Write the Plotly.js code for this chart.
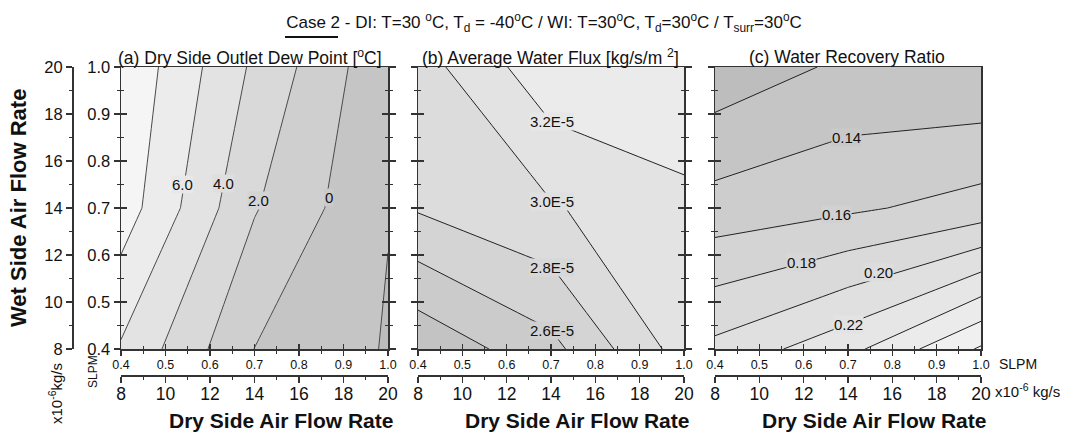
<!DOCTYPE html>
<html><head><meta charset="utf-8">
<script src="https://cdn.plot.ly/plotly-3.0.1.min.js"></script>
<style>html,body{margin:0;padding:0;background:#fff}#chart{width:1066px;height:435px}</style>
</head><body><div id="chart"></div>
<script>
// ---------------- DATA ----------------
// grid: dry side air flow (x) and wet side air flow (y), SLPM
const dryFlow = [0.4, 0.7, 1.0];
const wetFlow = [0.4, 0.7, 1.0];
// (a) dry side outlet dew point [°C]; rows follow wetFlow
const dewPoint = [
  [5.78, -0.02, -2.15],
  [9.09,  2.15, -1.93],
  [9.70,  3.64, -1.54]
];
// (b) average water flux [kg/s/m2]
const waterFlux = [
  [2.24e-5, 2.54e-5, 3.09e-5],
  [2.82e-5, 2.98e-5, 3.16e-5],
  [2.91e-5, 3.34e-5, 3.33e-5]
];
// (c) water recovery ratio
const recovery = [
  [0.2054, 0.2337, 0.2825],
  [0.1480, 0.1566, 0.1680],
  [0.1067, 0.1240, 0.1215]
];
// contour levels
const dewLevels = {start: -2, end: 8, size: 2};
const fluxLevels = {start: 2.4e-5, end: 3.2e-5, size: 0.2e-5};
const recLevels = {start: 0.12, end: 0.28, size: 0.02};
// contour label texts and the level each belongs to
const dewLabelText = ['6.0', '4.0', '2.0', '0'];
const dewLabelLevel = [6, 4, 2, 0];
const fluxLabelText = ['3.2E-5', '3.0E-5', '2.8E-5', '2.6E-5'];
const fluxLabelLevel = [3.2e-5, 3.0e-5, 2.8e-5, 2.6e-5];
const recLabelText = ['0.14', '0.16', '0.18', '0.20', '0.22'];
const recLabelLevel = [0.14, 0.16, 0.18, 0.20, 0.22];
// tick values
const slpmTicks = [0.4, 0.5, 0.6, 0.7, 0.8, 0.9, 1.0];
const slpmTickText = ['0.4', '0.5', '0.6', '0.7', '0.8', '0.9', '1.0'];
const slpmMinorTicks = [0.45, 0.55, 0.65, 0.75, 0.85, 0.95];
const kgsTicks = [8, 10, 12, 14, 16, 18, 20];
const kgsTickText = ['8', '10', '12', '14', '16', '18', '20'];
const kgsMinorTicks = [9, 11, 13, 15, 17, 19];

// ---------------- STYLE / LAYOUT ----------------
const W = 1066, H = 435;
const fx = p => p / W;
const fy = p => 1 - p / H;
const FONT = 'Liberation Sans, Arial, sans-serif';
const AX = '#333';
const TXT = '#111';

const dewColors = ['#bcbcbc', '#c5c5c5', '#cfcfcf', '#d9d9d9', '#e3e3e3', '#ececec', '#f5f5f5'];
const fluxColors = ['#c3c3c3', '#cbcbcb', '#d4d4d4', '#dcdcdc', '#e3e3e3', '#ebebeb'];
const recColors = ['#bdbdbd', '#c5c5c5', '#cdcdcd', '#d4d4d4', '#dadada', '#e0e0e0', '#e6e6e6', '#ebebeb', '#f0f0f0', '#f6f6f6'];

// label positions (data coords), kept apart from the data
const dewLabelPos = [[0.539, 0.749], [0.631, 0.753], [0.708, 0.717], [0.868, 0.723]];
const fluxLabelPos = [[0.702, 0.883], [0.702, 0.713], [0.702, 0.574], [0.702, 0.440]];
const recLabelPos = [[0.696, 0.849], [0.675, 0.687], [0.594, 0.585], [0.768, 0.562], [0.700, 0.453]];

const panels = [
  {z: dewPoint, lv: dewLevels, colors: dewColors, line: '#4a4a4a', px: [121, 388],
   lt: dewLabelText, ll: dewLabelLevel, lp: dewLabelPos,
   title: '(a) Dry Side Outlet Dew Point [<sup>o</sup>C]', tcx: 250},
  {z: waterFlux, lv: fluxLevels, colors: fluxColors, line: '#222', px: [418, 684],
   lt: fluxLabelText, ll: fluxLabelLevel, lp: fluxLabelPos,
   title: '(b) Average Water Flux [kg/s/m <sup>2</sup>]', tcx: 550},
  {z: recovery, lv: recLevels, colors: recColors, line: '#222', px: [715, 981],
   lt: recLabelText, ll: recLabelLevel, lp: recLabelPos,
   title: '(c) Water Recovery Ratio', tcx: 847}
];

function hex2rgb(h) { return [1, 3, 5].map(i => parseInt(h.substr(i, 2), 16)); }
function blend(a, b) {
  const A = hex2rgb(a), B = hex2rgb(b);
  return 'rgb(' + A.map((v, i) => Math.round((v + B[i]) / 2)).join(',') + ')';
}
const axName = (l, n) => l + 'axis' + (n === 1 ? '' : n);
const axId = (l, n) => l + (n === 1 ? '' : n);

const yDomain = [fy(349), fy(67)];
const traces = [];
// empty helper trace so that an axis that carries only ticks is registered and drawn
const axisHolder = (xid, yid) => ({type: 'scatter', mode: 'markers', x: [], y: [],
  xaxis: xid, yaxis: yid, hoverinfo: 'skip', showlegend: false});

const layout = {
  width: W, height: H,
  margin: {l: 0, r: 0, t: 0, b: 0, pad: 0},
  paper_bgcolor: '#ffffff', plot_bgcolor: 'rgba(0,0,0,0)',
  font: {family: FONT, color: TXT, size: 14},
  showlegend: false,
  title: {
    text: 'Case 2 - DI: T=30 <sup>o</sup>C, T<sub>d</sub> = -40<sup>o</sup>C / WI: T=30<sup>o</sup>C, T<sub>d</sub>=30<sup>o</sup>C / T<sub>surr</sub>=30<sup>o</sup>C',
    x: fx(544), xref: 'paper', xanchor: 'center',
    y: fy(22), yref: 'container', yanchor: 'middle',
    font: {family: FONT, size: 17, color: TXT}
  },
  annotations: [],
  shapes: [
    {type: 'line', xref: 'paper', yref: 'paper', x0: fx(285), x1: fx(338), y0: fy(37), y1: fy(37),
     line: {color: '#111', width: 2}}
  ]
};

const tickBase = {visible: true, showgrid: false, zeroline: false, fixedrange: true, tickcolor: AX, tickwidth: 1.2,
  linecolor: AX, linewidth: 1.5};
const minorSlpm = (dir) => ({tickmode: 'array', tickvals: slpmMinorTicks, ticks: dir, ticklen: 3, tickcolor: AX, tickwidth: 1.2});
const minorKgs = (dir) => ({tickmode: 'array', tickvals: kgsMinorTicks, ticks: dir, ticklen: 3, tickcolor: AX, tickwidth: 1.2});

panels.forEach((p, i) => {
  const xn = 3 * i + 1;                 // inner x (labels)
  const xin = xn + 1;                   // inside ticks
  const xout = xn + 2;                  // outer kg/s axis
  const yn = i === 0 ? 1 : 2 * i + 2;   // inner y
  const yin = yn + 1;                   // inside ticks
  const xid = axId('x', xn), yid = axId('y', yn);
  const dom = [fx(p.px[0]), fx(p.px[1])];

  traces.push({
    type: 'contour', x: dryFlow, y: wetFlow, z: p.z,
    xaxis: xid, yaxis: yid,
    autocontour: false,
    contours: {coloring: 'fill', start: p.lv.start, end: p.lv.end, size: p.lv.size, showlines: true},
    colorscale: p.colors.map((c, k) => [k / (p.colors.length - 1), c]),
    line: {color: p.line, width: 1, smoothing: 0},
    showscale: false, hoverinfo: 'skip'
  });
  traces.push(axisHolder(axId('x', xin), yid));
  traces.push(axisHolder(axId('x', xout), yid));
  traces.push(axisHolder(xid, axId('y', yin)));

  layout[axName('x', xn)] = Object.assign({}, tickBase, {
    domain: dom, anchor: yid, range: [0.4, 1.0],
    tickmode: 'array', tickvals: slpmTicks, ticktext: slpmTickText,
    ticks: 'outside', ticklen: 5, minor: minorSlpm('outside'),
    showline: true, mirror: true, ticklabelstandoff: -2,
    tickfont: {size: 12.5, family: FONT, color: TXT}
  });
  layout[axName('x', xin)] = Object.assign({}, tickBase, {
    overlaying: xid, anchor: yid, range: [0.4, 1.0],
    tickmode: 'array', tickvals: slpmTicks,
    ticks: 'inside', ticklen: 5, minor: minorSlpm('inside'),
    showline: false, showticklabels: false
  });
  layout[axName('x', xout)] = Object.assign({}, tickBase, {
    overlaying: xid, anchor: 'free', position: fy(375), side: 'bottom', range: [8, 20],
    tickmode: 'array', tickvals: kgsTicks, ticktext: kgsTickText,
    ticks: 'outside', ticklen: 6, minor: minorKgs('outside'),
    showline: true, ticklabelstandoff: -4,
    tickfont: {size: 17.5, family: FONT, color: TXT}
  });
  layout[axName('y', yn)] = Object.assign({}, tickBase, {
    domain: yDomain, anchor: xid, range: [0.4, 1.0],
    tickmode: 'array', tickvals: slpmTicks, ticktext: slpmTickText,
    ticks: 'outside', ticklen: 6, minor: minorSlpm('outside'),
    showline: true, mirror: i < 2 ? 'ticks' : true,
    showticklabels: i === 0,
    tickfont: {size: 16.5, family: FONT, color: TXT}
  });
  layout[axName('y', yin)] = Object.assign({}, tickBase, {
    overlaying: yid, anchor: xid, range: [0.4, 1.0],
    tickmode: 'array', tickvals: slpmTicks,
    ticks: 'inside', ticklen: 6, minor: minorSlpm('inside'),
    showline: false, showticklabels: false, mirror: i < 2 ? 'ticks' : false
  });

  // panel title
  layout.annotations.push({xref: 'paper', yref: 'paper', x: fx(p.tcx), y: fy(57),
    xanchor: 'center', yanchor: 'middle', showarrow: false, text: p.title,
    font: {family: FONT, size: 17.5, color: TXT}});
  // x axis title
  layout.annotations.push({xref: 'paper', yref: 'paper', x: fx((p.px[0] + p.px[1]) / 2 + 26), y: fy(420),
    xanchor: 'center', yanchor: 'middle', showarrow: false, text: '<b>Dry Side Air Flow Rate</b>',
    font: {family: FONT, size: 21, color: TXT}});
  // contour labels
  p.lt.forEach((t, k) => {
    const j = Math.round((p.ll[k] - p.lv.start) / p.lv.size);
    layout.annotations.push({xref: xid, yref: yid, x: p.lp[k][0], y: p.lp[k][1],
      xanchor: 'center', yanchor: 'middle', showarrow: false, text: t,
      bgcolor: blend(p.colors[j], p.colors[j + 1]), borderpad: 0,
      font: {family: FONT, size: 15, color: TXT}});
  });
});

// outer left kg/s axis
traces.push(axisHolder('x', 'y3'));
layout.yaxis3 = Object.assign({}, tickBase, {
  overlaying: 'y', anchor: 'free', position: fx(72), side: 'left', range: [8, 20],
  tickmode: 'array', tickvals: kgsTicks, ticktext: kgsTickText,
  ticks: 'outside', ticklen: 6, minor: minorKgs('outside'),
  showline: true,
  tickfont: {size: 16.5, family: FONT, color: TXT}
});

// extra texts
layout.annotations.push(
  {xref: 'paper', yref: 'paper', x: fx(18), y: fy(208), textangle: -90, showarrow: false,
   xanchor: 'center', yanchor: 'middle', text: '<b>Wet Side Air Flow Rate</b>',
   font: {family: FONT, size: 22, color: TXT}},
  {xref: 'paper', yref: 'paper', x: fx(55), y: fy(394), textangle: -90, showarrow: false,
   xanchor: 'center', yanchor: 'middle', text: 'x10<sup>-6</sup>kg/s',
   font: {family: FONT, size: 15, color: TXT}},
  {xref: 'paper', yref: 'paper', x: fx(93), y: fy(372), textangle: -90, showarrow: false,
   xanchor: 'center', yanchor: 'middle', text: 'SLPM',
   font: {family: FONT, size: 12, color: TXT}},
  {xref: 'paper', yref: 'paper', x: fx(997), y: fy(364), showarrow: false,
   xanchor: 'left', yanchor: 'middle', text: 'SLPM',
   font: {family: FONT, size: 14, color: TXT}},
  {xref: 'paper', yref: 'paper', x: fx(993), y: fy(390), showarrow: false,
   xanchor: 'left', yanchor: 'middle', text: 'x10<sup>-6</sup> kg/s',
   font: {family: FONT, size: 15, color: TXT}}
);

Plotly.newPlot('chart', traces, layout, {staticPlot: true, displayModeBar: false});
</script>
</body></html>
